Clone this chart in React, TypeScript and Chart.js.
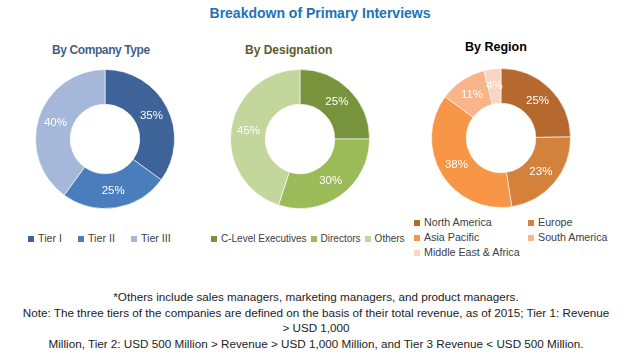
import React, { useEffect, useRef } from "react";
import { Chart, registerables } from "chart.js";

Chart.register(...registerables);

const companyLabels = ["Tier I", "Tier II", "Tier III"];
const companyValues = [35, 25, 40];
const companyColors = ["#3D6399", "#4A7DBB", "#A6B8DA"];

const designationLabels = ["C-Level Executives", "Directors", "Others"];
const designationValues = [25, 30, 45];
const designationColors = ["#77933C", "#9BBB59", "#C3D69B"];

const regionLabels = ["North America", "Europe", "Asia Pacific", "South America", "Middle East & Africa"];
const regionValues = [25, 23, 38, 11, 4];
const regionColors = ["#B6692F", "#D4813C", "#F79646", "#F9B48A", "#FBD4C2"];

const notes = [
  "*Others include sales managers, marketing managers, and product managers.",
  "Note: The three tiers of the companies are defined on the basis of their total revenue, as of 2015; Tier 1: Revenue",
  "> USD 1,000",
  "Million, Tier 2: USD 500 Million > Revenue > USD 1,000 Million, and Tier 3 Revenue < USD 500 Million.",
];

const labelFont = "'Liberation Sans', Arial, sans-serif";

const pctPlugin = {
  id: "pctLabels",
  afterDatasetsDraw(chart: any) {
    const ctx = chart.ctx;
    const meta = chart.getDatasetMeta(0);
    const data = chart.data.datasets[0].data;
    ctx.save();
    ctx.fillStyle = "#FFFFFF";
    ctx.font = "11.5px " + labelFont;
    ctx.textAlign = "center";
    ctx.textBaseline = "middle";
    meta.data.forEach((arc: any, i: number) => {
      const p = arc.tooltipPosition();
      ctx.fillText(data[i] + "%", p.x, p.y);
    });
    ctx.restore();
  },
};

function Donut(props: { labels: string[]; values: number[]; colors: string[]; left: number; top: number; size: number }) {
  const ref = useRef<HTMLCanvasElement>(null);
  useEffect(() => {
    if (!ref.current) return;
    const chart = new Chart(ref.current, {
      type: "doughnut",
      data: {
        labels: props.labels,
        datasets: [
          {
            data: props.values,
            backgroundColor: props.colors,
            borderColor: "rgba(255,255,255,0.6)",
            borderWidth: 1,
          },
        ],
      },
      options: {
        responsive: false,
        animation: false,
        cutout: "50%",
        layout: { padding: 0 },
        plugins: { legend: { display: false }, tooltip: { enabled: false } },
      },
      plugins: [pctPlugin],
    });
    return () => chart.destroy();
  }, []);
  return (
    <canvas
      ref={ref}
      width={props.size}
      height={props.size}
      style={{ position: "absolute", left: props.left, top: props.top, width: props.size, height: props.size }}
    />
  );
}

function LegendItem(props: { label: string; color: string }) {
  return (
    <div style={{ display: "flex", alignItems: "center", whiteSpace: "nowrap" }}>
      <span style={{ display: "inline-block", width: 6, height: 6, background: props.color, marginRight: 4 }} />
      <span>{props.label}</span>
    </div>
  );
}

const legendText: React.CSSProperties = {
  position: "absolute",
  fontFamily: labelFont,
  fontSize: 10.7,
  color: "#404040",
  lineHeight: "15px",
};

const subTitle: React.CSSProperties = {
  position: "absolute",
  fontFamily: labelFont,
  fontWeight: "bold",
  fontSize: 12,
};

export default function App() {
  useEffect(() => {
    document.body.style.margin = "0";
  }, []);
  return (
    <div style={{ position: "relative", width: 632, height: 359, background: "#fff", overflow: "hidden" }}>
      <div
        style={{
          position: "absolute",
          left: 0,
          width: 640,
          top: 5,
          textAlign: "center",
          fontFamily: labelFont,
          fontWeight: "bold",
          fontSize: 14,
          color: "#1C73BA",
        }}
      >
        Breakdown of Primary Interviews
      </div>
      <div style={{ ...subTitle, left: 52, top: 43, color: "#3F5F90", letterSpacing: -0.4 }}>By Company Type</div>
      <div style={{ ...subTitle, left: 245, top: 43, color: "#5B5B2C" }}>By Designation</div>
      <div style={{ ...subTitle, left: 465, top: 40, color: "#000", fontSize: 12.5 }}>By Region</div>

      <Donut labels={companyLabels} values={companyValues} colors={companyColors} left={35} top={69} size={140} />
      <Donut labels={designationLabels} values={designationValues} colors={designationColors} left={230} top={69} size={140} />
      <Donut labels={regionLabels} values={regionValues} colors={regionColors} left={431} top={68} size={140} />

      <div style={{ ...legendText, left: 28, top: 231, display: "flex", gap: 16 }}>
        {companyLabels.map((l, i) => (
          <LegendItem key={l} label={l} color={companyColors[i]} />
        ))}
      </div>
      <div style={{ ...legendText, fontSize: 10, left: 211, top: 231, display: "flex", gap: 4 }}>
        {designationLabels.map((l, i) => (
          <LegendItem key={l} label={l} color={designationColors[i]} />
        ))}
      </div>
      <div style={{ ...legendText, left: 414, top: 215, width: 210, display: "grid", gridTemplateColumns: "114px 96px" }}>
        {regionLabels.map((l, i) => (
          <LegendItem key={l} label={l} color={regionColors[i]} />
        ))}
      </div>

      <div
        style={{
          position: "absolute",
          left: 0,
          width: 632,
          top: 289,
          textAlign: "center",
          fontFamily: labelFont,
          fontSize: 11.7,
          lineHeight: "15.7px",
          color: "#222",
        }}
      >
        {notes.map((n) => (
          <div key={n} style={{ whiteSpace: "nowrap" }}>{n}</div>
        ))}
      </div>
    </div>
  );
}
